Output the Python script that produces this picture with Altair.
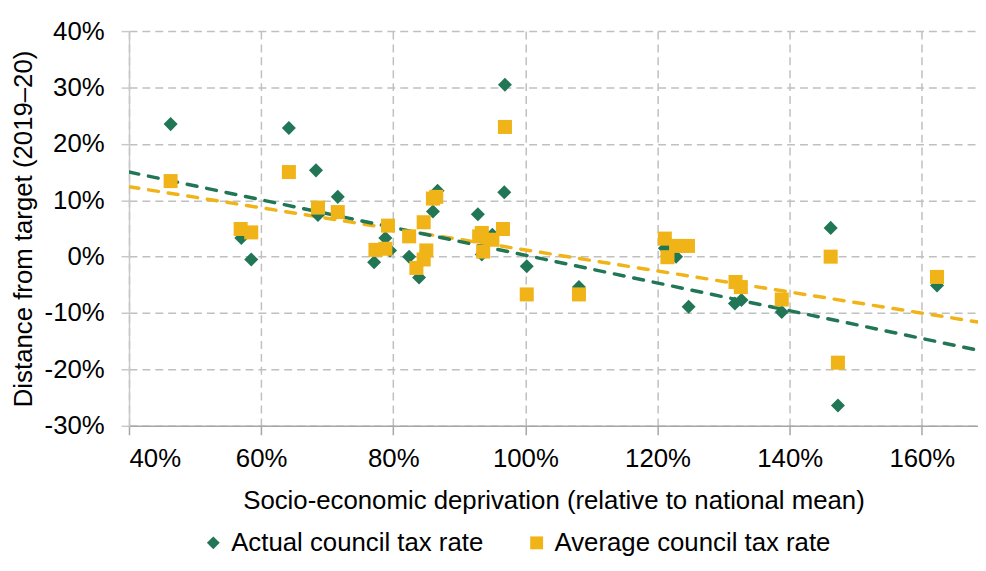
import altair as alt
import pandas as pd

series_names = ["Actual council tax rate", "Average council tax rate"]

actual_x = [0.463, 0.570, 0.585, 0.642, 0.683, 0.686, 0.716, 0.771, 0.788, 0.795,
            0.824, 0.839, 0.850, 0.860, 0.865, 0.867, 0.928, 0.930, 0.934, 0.950,
            0.968, 0.969, 1.002, 1.081, 1.211, 1.215, 1.228, 1.247, 1.317, 1.327,
            1.388, 1.462, 1.473, 1.623]
actual_y = [0.235, 0.033, -0.005, 0.228, 0.153, 0.074, 0.106, -0.010, 0.033, 0.011,
            0.000, -0.037, 0.010, 0.080, 0.103, 0.117, 0.075, 0.036, 0.004, 0.039,
            0.114, 0.305, -0.017, -0.054, 0.015, 0.002, 0.000, -0.089, -0.083, -0.077,
            -0.098, 0.051, -0.264, -0.051]

average_x = [0.463, 0.569, 0.585, 0.642, 0.686, 0.716, 0.773, 0.788, 0.792, 0.824,
             0.835, 0.846, 0.850, 0.846, 0.860, 0.865, 0.930, 0.934, 0.936, 0.950,
             0.966, 0.969, 1.002, 1.081, 1.211, 1.215, 1.228, 1.246, 1.318, 1.326,
             1.388, 1.462, 1.473, 1.623]
average_y = [0.134, 0.049, 0.043, 0.150, 0.087, 0.079, 0.012, 0.014, 0.055, 0.036,
             -0.020, -0.005, 0.011, 0.061, 0.103, 0.106, 0.036, 0.042, 0.009, 0.030,
             0.049, 0.230, -0.067, -0.067, 0.032, -0.001, 0.019, 0.019, -0.045, -0.054,
             -0.076, -0.000, -0.188, -0.036]

trend_x = [0.40, 1.685]
trend_actual = [0.150, -0.166]
trend_average = [0.124, -0.116]

x_ticks = [0.4, 0.6, 0.8, 1.0, 1.2, 1.4, 1.6]
y_ticks = [-0.3, -0.2, -0.1, 0.0, 0.1, 0.2, 0.3, 0.4]

GREEN = "#217655"
YELLOW = "#F0B419"
FONT = "Liberation Sans"
FS = 26

points = pd.DataFrame({
    "x": actual_x + average_x,
    "y": actual_y + average_y,
    "series": [series_names[0]] * len(actual_x) + [series_names[1]] * len(average_x),
})
trend_a = pd.DataFrame({"x": trend_x, "y": trend_actual})
trend_b = pd.DataFrame({"x": trend_x, "y": trend_average})

x_enc = alt.X(
    "x:Q",
    scale=alt.Scale(domain=[0.4, 1.685], nice=False, zero=False),
    axis=alt.Axis(
        values=x_ticks, format=".0%",
        title="Socio-economic deprivation (relative to national mean)",
        titleX=428, titleY=75, titleAlign="center", titleBaseline="middle",
        grid=True, gridDash=[8, 5], gridColor="#C0C0C0", gridWidth=1.5,
        domainColor="#A6A6A6", domainWidth=1.5, tickColor="#A6A6A6", tickWidth=1.5,
        tickSize=9, labelPadding=11,
    ),
)
y_enc = alt.Y(
    "y:Q",
    scale=alt.Scale(domain=[-0.3, 0.4], nice=False, zero=False),
    axis=alt.Axis(
        values=y_ticks,
        labelExpr="(datum.value < -0.0001 ? '-' : '') + format(abs(datum.value), '.0%')",
        title="Distance from target (2019–20)",
        titleX=-106, titleY=199, titleAngle=-90, titleAlign="center", titleBaseline="middle",
        grid=True, gridDash=[8, 5], gridColor="#C0C0C0", gridWidth=1.5,
        domainColor="#C8C8C8", domainWidth=1.5, tickColor="#C8C8C8", tickWidth=1.5,
        tickSize=8, labelPadding=17,
    ),
)

legend = alt.Legend(
    orient="none", legendX=72, legendY=503, direction="horizontal", title=None,
    labelFontSize=FS, labelFont=FONT, labelColor="black", symbolSize=169,
    labelOffset=5, columnPadding=40, padding=0, symbolStrokeWidth=0, labelLimit=0,
)

line_a = alt.Chart(trend_a).mark_line(
    color=GREEN, strokeDash=[10, 10], strokeWidth=3.5, strokeCap="round", clip=True
).encode(x=x_enc, y=y_enc)
line_b = alt.Chart(trend_b).mark_line(
    color=YELLOW, strokeDash=[10, 10], strokeWidth=3.5, strokeCap="round", clip=True
).encode(x=x_enc, y=y_enc)

pts = alt.Chart(points).mark_point(filled=True, size=200, opacity=1).encode(
    x=x_enc, y=y_enc,
    color=alt.Color("series:N", scale=alt.Scale(domain=series_names, range=[GREEN, YELLOW]), legend=legend),
    shape=alt.Shape("series:N", scale=alt.Scale(domain=series_names, range=["diamond", "square"]), legend=legend),
)

chart = alt.layer(line_b, line_a, pts).properties(
    width=856, height=398,
    autosize=alt.AutoSizeParams(type="none"),
    padding={"left": 122, "top": 21, "right": 0, "bottom": 131},
).configure_view(stroke=None).configure_axis(
    labelFont=FONT, titleFont=FONT, labelFontSize=FS, titleFontSize=FS,
    labelColor="black", titleColor="black", titleFontWeight="normal",
)

chart.save("out.html", embed_options={"renderer": "svg", "actions": False})
